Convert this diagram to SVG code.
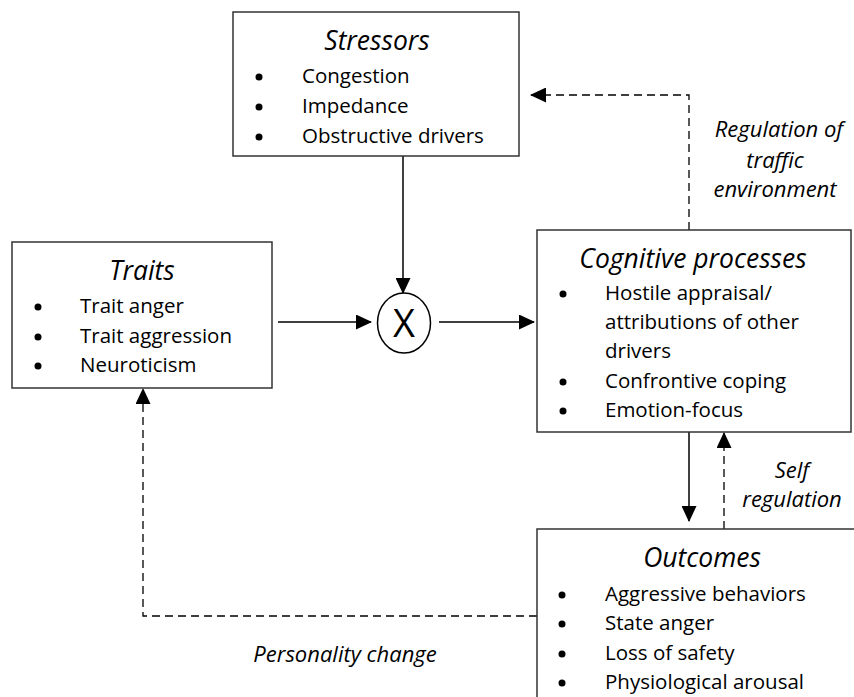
<svg xmlns="http://www.w3.org/2000/svg" width="854" height="697" viewBox="0 0 854 697">
<defs>
<marker id="ahl" markerWidth="16" markerHeight="15" refX="15" refY="7.5" orient="auto" markerUnits="userSpaceOnUse" viewBox="0 0 16 15">
<path d="M0,0 L16,7.5 L0,15 z" fill="#000"/>
</marker>
</defs>
<style>
.box{fill:#fff;stroke:#333;stroke-width:1.5}
.title{font-family:"Open Sans",Lato,sans-serif;font-style:italic;font-size:26.5px;fill:#000;text-anchor:middle}
.item{font-family:"Open Sans",Lato,sans-serif;font-size:20.5px;fill:#000}
.lab{font-family:"Open Sans",Lato,sans-serif;font-style:italic;font-size:22px;fill:#000;text-anchor:middle}
.bul{fill:#000}
.solid{fill:none;stroke:#000;stroke-width:1.5;marker-end:url(#ahl)}
.dash{fill:none;stroke:#000;stroke-width:1.3;stroke-dasharray:8,5;marker-end:url(#ahl)}
</style>
<rect width="854" height="697" fill="#fff"/>

<g id="connectors">
<path class="solid" d="M403,156 V293"/>
<path class="solid" d="M278,322 H371"/>
<path class="solid" d="M439,322 H534"/>
<path class="solid" d="M689,432 V521"/>
<path class="dash" d="M724,529 V433"/>
<path class="dash" d="M689,230 V95 H531"/>
<path class="dash" d="M537,616 H143 V389"/>
</g>

<g id="stressors">
<rect class="box" x="233" y="12" width="286" height="144"/>
<text class="title" x="377" y="50">Stressors</text>
<circle class="bul" cx="259" cy="77" r="3.5"/>
<text class="item" x="302" y="83">Congestion</text>
<circle class="bul" cx="259" cy="107" r="3.5"/>
<text class="item" x="302" y="113">Impedance</text>
<circle class="bul" cx="259" cy="137" r="3.5"/>
<text class="item" x="302" y="143">Obstructive drivers</text>
</g>

<g id="traits">
<rect class="box" x="12" y="242" width="260" height="146"/>
<text class="title" x="142" y="280">Traits</text>
<circle class="bul" cx="38" cy="307" r="3.5"/>
<text class="item" x="80" y="313">Trait anger</text>
<circle class="bul" cx="38" cy="337" r="3.5"/>
<text class="item" x="80" y="343">Trait aggression</text>
<circle class="bul" cx="38" cy="366" r="3.5"/>
<text class="item" x="80" y="372">Neuroticism</text>
</g>

<g id="multiplier">
<ellipse cx="404" cy="323" rx="26.5" ry="30" fill="#fff" stroke="#000" stroke-width="1.5"/>
<text x="404" y="337" style="font-family:'Open Sans',Lato,sans-serif;font-size:38px;text-anchor:middle">X</text>
</g>

<g id="cognitive">
<rect class="box" x="537" y="230" width="314" height="202"/>
<text class="title" x="693" y="268">Cognitive processes</text>
<circle class="bul" cx="563" cy="294" r="3.5"/>
<text class="item" x="605" y="300">Hostile appraisal/</text>
<text class="item" x="605" y="329">attributions of other</text>
<text class="item" x="605" y="358">drivers</text>
<circle class="bul" cx="563" cy="382" r="3.5"/>
<text class="item" x="605" y="388">Confrontive coping</text>
<circle class="bul" cx="563" cy="411" r="3.5"/>
<text class="item" x="605" y="417">Emotion-focus</text>
</g>

<g id="outcomes">
<rect class="box" x="537" y="529" width="330" height="180"/>
<text class="title" x="702" y="567">Outcomes</text>
<circle class="bul" cx="562" cy="595" r="3.5"/>
<text class="item" x="605" y="601">Aggressive behaviors</text>
<circle class="bul" cx="562" cy="624" r="3.5"/>
<text class="item" x="605" y="630">State anger</text>
<circle class="bul" cx="562" cy="654" r="3.5"/>
<text class="item" x="605" y="660">Loss of safety</text>
<circle class="bul" cx="562" cy="683" r="3.5"/>
<text class="item" x="605" y="689">Physiological arousal</text>
</g>

<g id="labels">
<text class="lab" x="779" y="137">Regulation of</text>
<text class="lab" x="775" y="168">traffic</text>
<text class="lab" x="775" y="197">environment</text>
<text class="lab" x="792" y="478">Self</text>
<text class="lab" x="792" y="507">regulation</text>
<text class="lab" x="345" y="662">Personality change</text>
</g>
</svg>
